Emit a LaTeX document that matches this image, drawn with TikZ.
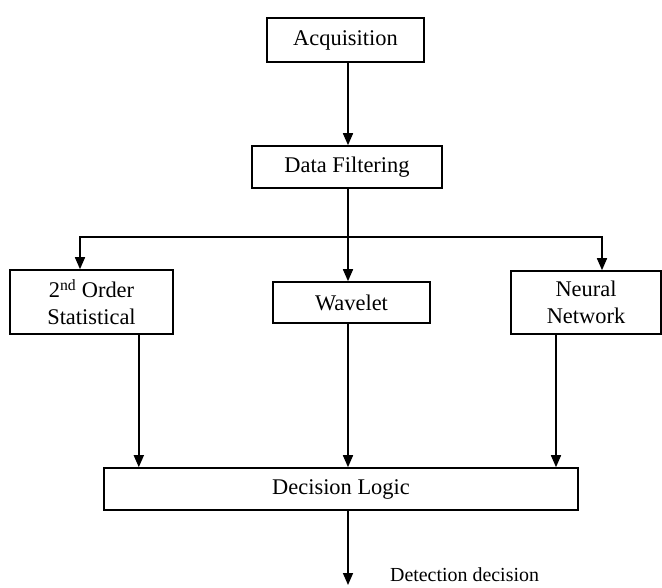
\documentclass[tikz,border=0pt]{standalone}
\usepackage{fontspec}
\setmainfont{Liberation Serif}
\usetikzlibrary{arrows.meta}
\tikzset{
  block/.style = {
    draw, rectangle, line width=1.6bp, inner sep=2bp,
    align=center, font=\fontsize{22.5}{27}\selectfont
  }
}
\tikzset{>={Triangle[length=12bp,width=10bp]}}

\begin{document}
\begin{tikzpicture}[x=1bp,y=-1bp,line width=1.6bp]
  \useasboundingbox (0,0) rectangle (662,588);
  % boxes
  \node[block,minimum width=157bp,minimum height=44bp] (acq)   at (345.5, 40)  {Acquisition};
  \node[block,minimum width=190bp,minimum height=42bp] (filt)  at (347,167)    {Data Filtering};
  \node[block,minimum width=163bp,minimum height=64bp] (stat)  at (91.5,302)   {2\textsuperscript{nd} Order\\Statistical};
  \node[block,minimum width=157bp,minimum height=41bp] (wave)  at (351.5,302.5) {Wavelet};
  \node[block,minimum width=150bp,minimum height=63bp] (neur)  at (586,302.5)  {Neural\\Network};
  \node[block,minimum width=474bp,minimum height=42bp] (logic) at (341,489)    {Decision Logic};
  \coordinate (out)   at (348,585);
  \coordinate (split) at (348,237);
  \node[anchor=west,font=\fontsize{20}{22}\selectfont] (det) at (386,575) {Detection decision};
  % arrows
  \draw[->] ([xshift=2.5bp]acq.south) -- ([xshift=2.5bp]acq.south |- filt.north);
  \draw[->] ([xshift=1bp]filt.south) -- ([xshift=1bp]filt.south |- wave.north);
  \draw[->] (split) -| ([xshift=-11.5bp]stat.north);
  \draw[->] (split) -| ([xshift=16bp]neur.north);
  \draw[->] ([xshift=47.3bp]stat.south) -- ([xshift=47.3bp]stat.south |- logic.north);
  \draw[->] ([xshift=-3.5bp]wave.south) -- ([xshift=-3.5bp]wave.south |- logic.north);
  \draw[->] ([xshift=-30bp]neur.south) -- ([xshift=-30bp]neur.south |- logic.north);
  \draw[->] ([xshift=7bp]logic.south) -- (out);
\end{tikzpicture}
\end{document}
